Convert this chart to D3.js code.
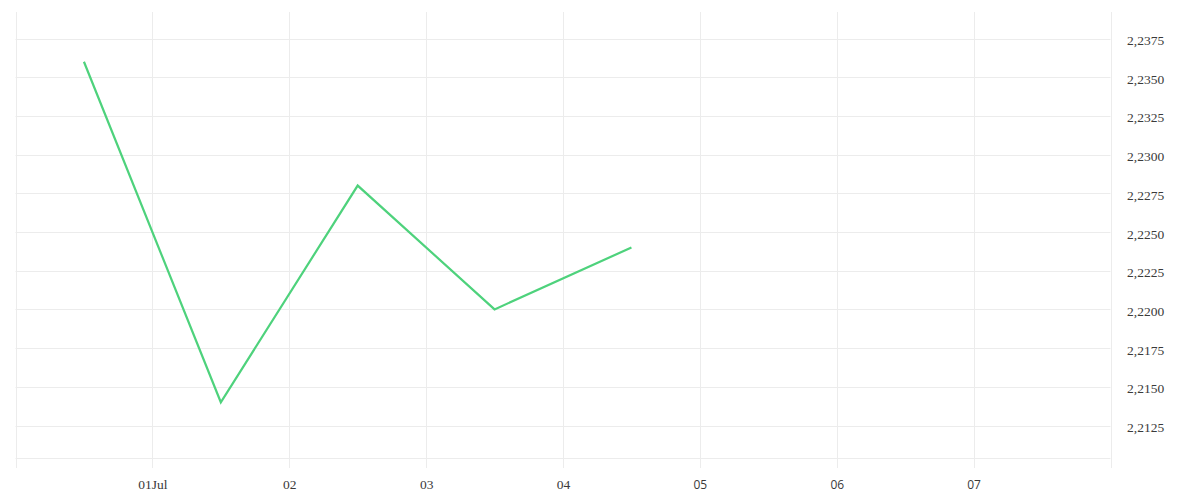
<!DOCTYPE html>
<html>
<head>
<meta charset="utf-8">
<script src="https://cdn.jsdelivr.net/npm/d3@7"></script>
<style>
    body { margin: 0; background: #fff; }
    .grid line { stroke: #ececec; stroke-width: 1; }
    .tick-label { fill: #3a3a3a; }
    .serif { font-family: "Liberation Serif", serif; font-size: 13.5px; }
    .sans { font-family: "Open Sans", sans-serif; font-size: 12px; }
</style>
</head>
<body>
<script>
// Data points (taken at midday of each day)
const dates = ['2024-06-30T12:00', '2024-07-01T12:00', '2024-07-02T12:00', '2024-07-03T12:00', '2024-07-04T12:00'];
const values = [2.2360, 2.2140, 2.2280, 2.2200, 2.2240];

// Axis ticks
const yTicks = [2.2125, 2.2150, 2.2175, 2.2200, 2.2225, 2.2250, 2.2275, 2.2300, 2.2325, 2.2350, 2.2375];
const xTickDays = ['2024-06-30', '2024-07-01', '2024-07-02', '2024-07-03', '2024-07-04', '2024-07-05', '2024-07-06', '2024-07-07', '2024-07-08'];
const xTickLabels = ['', '01Jul', '02', '03', '04', '05', '06', '07', ''];

const width = 1200, height = 500;
const plotLeft = 15.5, plotRight = 1110.5, plotTop = 12, plotBottom = 458.5;

const parse = d3.timeParse('%Y-%m-%dT%H:%M');
const parseDay = d3.timeParse('%Y-%m-%d');

const x = d3.scaleTime()
    .domain([parseDay('2024-06-30'), parseDay('2024-07-08')])
    .range([plotLeft, plotRight]);

const y = d3.scaleLinear()
    .domain([2.2375, 2.2125])
    .range([38.5, 425.5]);

const svg = d3.select('body').append('svg')
    .attr('width', width)
    .attr('height', height);

// Horizontal grid lines
const grid = svg.append('g').attr('class', 'grid');
grid.selectAll('line.h')
    .data(yTicks)
    .enter()
    .append('line')
    .attr('x1', plotLeft).attr('x2', plotRight)
    .attr('y1', d => Math.round(y(d)) + 0.5)
    .attr('y2', d => Math.round(y(d)) + 0.5);

// Bottom border
grid.append('line')
    .attr('x1', plotLeft).attr('x2', plotRight)
    .attr('y1', plotBottom).attr('y2', plotBottom);

// Vertical grid lines, running a bit below the plot like ticks
grid.selectAll('line.v')
    .data(xTickDays)
    .enter()
    .append('line')
    .attr('x1', d => Math.round(x(parseDay(d))) + 0.5)
    .attr('x2', d => Math.round(x(parseDay(d))) + 0.5)
    .attr('y1', plotTop).attr('y2', 468);

// Y axis labels on the right
const fmt = d => d3.format('.4f')(d).replace('.', ',');
svg.selectAll('text.y')
    .data(yTicks)
    .enter()
    .append('text')
    .attr('class', 'tick-label serif')
    .attr('x', 1127)
    .attr('y', d => y(d) + 6.5)
    .text(fmt);

// X axis labels
const lastData = parse(dates[dates.length - 1]);
svg.selectAll('text.x')
    .data(xTickDays.map((d, i) => ({ day: parseDay(d), label: xTickLabels[i] })))
    .enter()
    .append('text')
    .attr('class', d => 'tick-label ' + (d.day <= lastData ? 'serif' : 'sans'))
    .attr('x', d => x(d.day) + 0.5)
    .attr('y', 488.5)
    .attr('text-anchor', 'middle')
    .text(d => d.label);

// The line itself
const points = dates.map((d, i) => ({ t: parse(d), v: values[i] }));
const line = d3.line()
    .x(d => x(d.t))
    .y(d => y(d.v));

svg.append('path')
    .datum(points)
    .attr('d', line)
    .attr('fill', 'none')
    .attr('stroke', '#4ed27c')
    .attr('stroke-width', 2.2)
    .attr('stroke-linejoin', 'miter');
</script>
</body>
</html>
